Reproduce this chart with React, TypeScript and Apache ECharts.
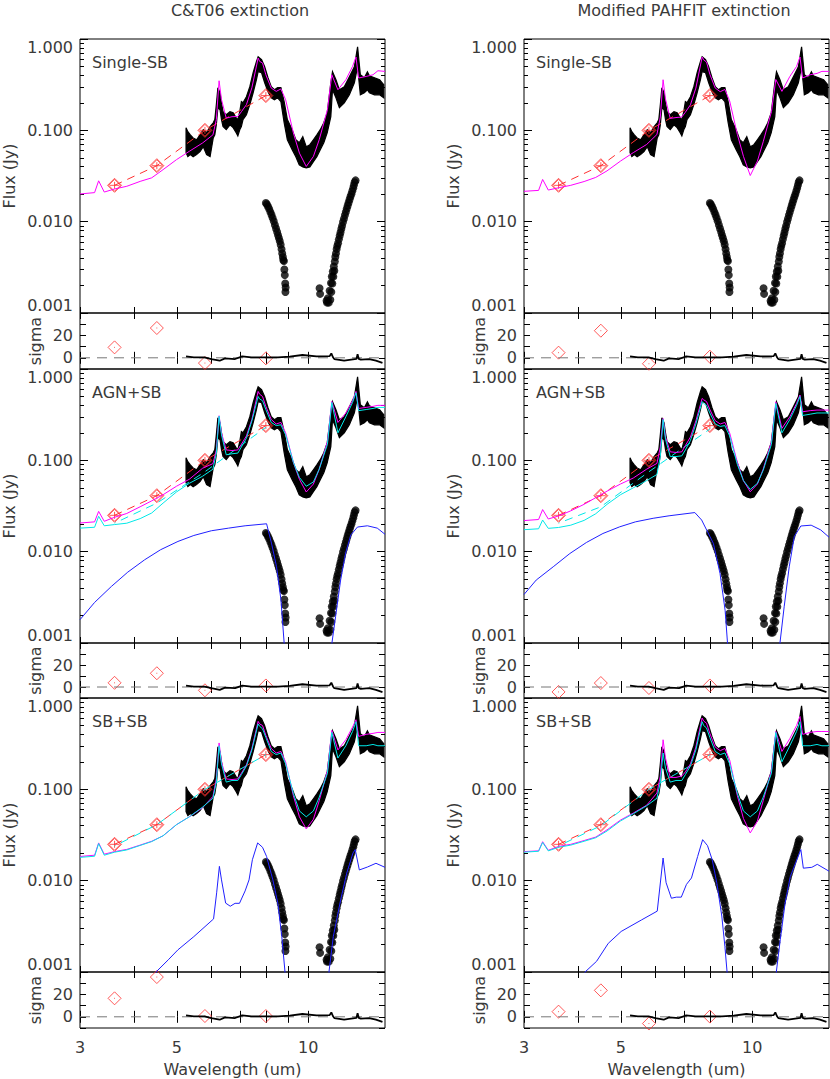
import React, { useEffect, useRef } from "react";
import * as echarts from "echarts";

// ---------- axes / ticks ----------
const xTickWaves = [3, 4, 5, 6, 7, 8, 9, 10];
const xLabelWaves = [3, 5, 10];
const xRange = [3, 15];
const fluxDecades = [0.001, 0.01, 0.1, 1];
const minorMultipliers = [2, 3, 4, 5, 6, 7, 8, 9];
const sigmaRange = [-10, 40];
const sigmaLabels = [0, 20];

const columnTitles = ["C&T06 extinction", "Modified PAHFIT extinction"];
const rowLabels = ["Single-SB", "AGN+SB", "SB+SB"];

// ---------- observed IRS spectrum (band = error range, Jy) ----------
const specWave = [5.25, 5.30, 5.37, 5.45, 5.55, 5.65, 5.75, 5.85, 5.96, 6.06, 6.11, 6.16, 6.21, 6.28, 6.33, 6.38, 6.49, 6.62, 6.73, 6.84, 6.90, 6.97, 7.03, 7.09, 7.22, 7.35, 7.48, 7.61, 7.68, 7.82, 7.95, 8.09, 8.23, 8.37, 8.51, 8.66, 8.81, 8.96, 9.19, 9.37, 9.54, 9.72, 9.90, 10.09, 10.28, 10.47, 10.66, 10.86, 11.06, 11.27, 11.37, 11.58, 11.79, 12.10, 12.43, 12.76, 12.98, 13.17, 13.45, 13.67, 13.81, 14.19, 14.58, 14.90];
const specHigh = [0.107, 0.0967, 0.0893, 0.0826, 0.0789, 0.0893, 0.1016, 0.0942, 0.1096, 0.121, 0.131, 0.191, 0.293, 0.258, 0.200, 0.160, 0.148, 0.160, 0.156, 0.137, 0.131, 0.160, 0.206, 0.200, 0.233, 0.300, 0.427, 0.564, 0.640, 0.593, 0.497, 0.377, 0.300, 0.278, 0.293, 0.293, 0.206, 0.131, 0.1016, 0.0789, 0.0732, 0.0852, 0.0662, 0.0696, 0.0789, 0.0893, 0.1016, 0.121, 0.156, 0.332, 0.438, 0.358, 0.278, 0.300, 0.386, 0.497, 0.823, 0.406, 0.377, 0.438, 0.396, 0.377, 0.358, 0.316];
const specLow = [0.0569, 0.0515, 0.0543, 0.0515, 0.0543, 0.0584, 0.0662, 0.0543, 0.0515, 0.0826, 0.0893, 0.115, 0.177, 0.168, 0.131, 0.110, 0.1016, 0.115, 0.107, 0.0942, 0.087, 0.1016, 0.110, 0.131, 0.148, 0.191, 0.258, 0.358, 0.438, 0.427, 0.332, 0.265, 0.227, 0.216, 0.227, 0.206, 0.121, 0.0789, 0.0613, 0.0515, 0.0418, 0.0398, 0.0388, 0.0398, 0.0454, 0.0515, 0.0613, 0.0732, 0.0942, 0.141, 0.278, 0.227, 0.177, 0.200, 0.245, 0.332, 0.497, 0.245, 0.258, 0.278, 0.258, 0.245, 0.245, 0.227];

// ---------- black dots ----------
const dotWave = [8.00, 8.04, 8.09, 8.14, 8.19, 8.24, 8.29, 8.34, 8.39, 8.44, 8.49, 8.53, 8.57, 8.61, 8.65, 8.69, 8.72, 8.75, 8.77, 8.80, 8.82, 8.84, 8.86, 8.88, 8.87,
  10.62, 10.65, 11.02, 11.05, 11.10, 11.15, 11.20, 11.24, 11.28, 11.30, 11.33, 11.36, 11.39, 11.42, 11.45, 11.48, 11.51, 11.54, 11.58, 11.62, 11.66, 11.71, 11.76, 11.81, 11.86, 11.91, 11.96, 12.02, 12.08, 12.14, 12.20, 12.26, 12.32, 12.38, 12.44, 12.50, 12.56, 12.62, 12.68, 12.73, 12.78, 12.84];
const dotFlux = [0.0160, 0.0155, 0.0147, 0.0138, 0.0128, 0.0119, 0.0110, 0.0101, 0.0092, 0.0084, 0.0077, 0.0071, 0.0066, 0.0061, 0.0056, 0.0050, 0.0045, 0.0041, 0.0038, 0.0037, 0.0030, 0.0026, 0.0021, 0.0019, 0.0017,
  0.00187, 0.00162, 0.00136, 0.0013, 0.00145, 0.0013, 0.00175, 0.0014, 0.00213, 0.0017, 0.00251, 0.0021, 0.00285, 0.0025, 0.00323, 0.0029, 0.00366, 0.0041, 0.0045, 0.0050, 0.0054, 0.0058, 0.0064, 0.0070, 0.0076, 0.0083, 0.0090, 0.0099, 0.0108, 0.0118, 0.0128, 0.0139, 0.0150, 0.0162, 0.0175, 0.0188, 0.0200, 0.0215, 0.0232, 0.0250, 0.0270, 0.0283];

// ---------- IRAC photometry ----------
const irWave = [3.6, 4.5, 5.8, 8.0];
const irFlux = [0.025, 0.041, 0.100, 0.240];

// ---------- models ----------
const modelWave = [3.0, 3.24, 3.31, 3.41, 3.6, 3.84, 4.12, 4.38, 4.65, 4.99, 5.34, 5.73, 6.05, 6.16, 6.25, 6.33, 6.49, 6.69, 6.9, 7.03, 7.22, 7.43, 7.68, 7.74, 7.86, 8.0, 8.23, 8.45, 8.66, 8.88, 9.25, 9.55, 9.9, 10.28, 10.6, 11.07, 11.33, 11.7, 12.2, 12.64, 12.87, 13.05, 13.58, 14.08, 14.45, 15.0];
const magentaCTSingle = [0.0201, 0.0208, 0.028, 0.0211, 0.0228, 0.0244, 0.0276, 0.0302, 0.0371, 0.0477, 0.0589, 0.0728, 0.0893, 0.131, 0.349, 0.217, 0.136, 0.141, 0.142, 0.16, 0.191, 0.292, 0.619, 0.569, 0.546, 0.406, 0.29, 0.267, 0.284, 0.216, 0.0935, 0.0563, 0.0402, 0.0518, 0.0789, 0.168, 0.406, 0.278, 0.358, 0.501, 0.635, 0.374, 0.389, 0.406, 0.449, 0.442];
const magentaPFSingle = [0.0215, 0.022, 0.029, 0.0222, 0.0235, 0.025, 0.0275, 0.0305, 0.036, 0.046, 0.057, 0.07, 0.09, 0.14, 0.358, 0.22, 0.135, 0.138, 0.14, 0.158, 0.19, 0.29, 0.635, 0.59, 0.56, 0.41, 0.29, 0.265, 0.28, 0.21, 0.09, 0.052, 0.032, 0.046, 0.075, 0.16, 0.36, 0.267, 0.389, 0.5, 0.635, 0.374, 0.406, 0.42, 0.442, 0.442];
const magentaCTAgn = [0.0206, 0.0212, 0.0276, 0.0215, 0.0238, 0.0262, 0.031, 0.036, 0.042, 0.052, 0.062, 0.082, 0.092, 0.13, 0.308, 0.2, 0.13, 0.128, 0.13, 0.15, 0.185, 0.28, 0.568, 0.53, 0.5, 0.39, 0.28, 0.25, 0.26, 0.2, 0.095, 0.062, 0.045, 0.055, 0.08, 0.16, 0.442, 0.26, 0.33, 0.45, 0.568, 0.37, 0.38, 0.39, 0.4, 0.4];
const cyanCTAgn = [0.0181, 0.0185, 0.0244, 0.0192, 0.0198, 0.0205, 0.023, 0.0265, 0.034, 0.045, 0.056, 0.067, 0.08, 0.12, 0.305, 0.19, 0.115, 0.118, 0.12, 0.14, 0.175, 0.27, 0.5, 0.47, 0.45, 0.36, 0.26, 0.24, 0.245, 0.19, 0.095, 0.065, 0.052, 0.058, 0.08, 0.15, 0.43, 0.2, 0.3, 0.43, 0.55, 0.35, 0.36, 0.37, 0.38, 0.38];
const magentaPFAgn = [0.0219, 0.0225, 0.0289, 0.0228, 0.0246, 0.028, 0.033, 0.039, 0.046, 0.055, 0.064, 0.08, 0.0925, 0.14, 0.287, 0.18, 0.124, 0.122, 0.124, 0.145, 0.18, 0.27, 0.476, 0.46, 0.44, 0.36, 0.272, 0.25, 0.26, 0.2, 0.095, 0.06, 0.0453, 0.055, 0.08, 0.16, 0.437, 0.224, 0.3, 0.42, 0.519, 0.34, 0.35, 0.355, 0.355, 0.355];
const cyanPFAgn = [0.0174, 0.0178, 0.0222, 0.018, 0.0184, 0.0195, 0.022, 0.026, 0.033, 0.042, 0.05, 0.06, 0.07, 0.11, 0.28, 0.17, 0.11, 0.11, 0.112, 0.13, 0.165, 0.25, 0.44, 0.42, 0.4, 0.33, 0.25, 0.235, 0.24, 0.185, 0.09, 0.06, 0.048, 0.056, 0.078, 0.15, 0.42, 0.2, 0.28, 0.4, 0.5, 0.31, 0.32, 0.33, 0.33, 0.33];
const magentaCTSb = [0.0184, 0.019, 0.0259, 0.0195, 0.0208, 0.022, 0.0245, 0.027, 0.031, 0.041, 0.05, 0.063, 0.0837, 0.13, 0.322, 0.2, 0.13, 0.128, 0.13, 0.15, 0.185, 0.28, 0.555, 0.52, 0.5, 0.39, 0.28, 0.25, 0.26, 0.2, 0.085, 0.05, 0.0368, 0.047, 0.075, 0.16, 0.442, 0.27, 0.35, 0.48, 0.578, 0.38, 0.4, 0.41, 0.42, 0.42];
const cyanCTSb = [0.018, 0.0185, 0.0255, 0.019, 0.0205, 0.0217, 0.0243, 0.0268, 0.031, 0.041, 0.05, 0.064, 0.08, 0.12, 0.3, 0.19, 0.12, 0.125, 0.125, 0.145, 0.18, 0.27, 0.52, 0.49, 0.46, 0.37, 0.26, 0.24, 0.25, 0.19, 0.09, 0.058, 0.05, 0.058, 0.082, 0.15, 0.42, 0.22, 0.3, 0.43, 0.55, 0.3, 0.3, 0.31, 0.3, 0.3];
const magentaPFSb = [0.0208, 0.0212, 0.0267, 0.0215, 0.0237, 0.025, 0.0275, 0.030, 0.036, 0.046, 0.055, 0.067, 0.091, 0.14, 0.349, 0.22, 0.135, 0.135, 0.14, 0.155, 0.19, 0.29, 0.604, 0.56, 0.53, 0.41, 0.29, 0.265, 0.28, 0.21, 0.085, 0.048, 0.0333, 0.045, 0.075, 0.16, 0.43, 0.26, 0.36, 0.5, 0.628, 0.4, 0.42, 0.43, 0.43, 0.43];
const cyanPFSb = [0.0205, 0.021, 0.0262, 0.0212, 0.0232, 0.0245, 0.027, 0.0295, 0.035, 0.045, 0.054, 0.066, 0.08, 0.12, 0.25, 0.17, 0.12, 0.125, 0.125, 0.145, 0.18, 0.27, 0.55, 0.5, 0.47, 0.37, 0.26, 0.24, 0.25, 0.19, 0.09, 0.058, 0.05, 0.058, 0.082, 0.15, 0.42, 0.2, 0.3, 0.43, 0.55, 0.3, 0.3, 0.31, 0.3, 0.3];

// cyan dashed synthetic photometry (at irWave)
const cyanPhotCTAgn = [0.0205, 0.034, 0.075, 0.23];
const cyanPhotPFAgn = [0.0205, 0.031, 0.075, 0.22];
const cyanPhotCTSb = [0.024, 0.041, 0.1, 0.24];
const cyanPhotPFSb = [0.024, 0.04, 0.1, 0.24];

// blue second components
const blueWaveCTAgn = [3.0, 3.24, 3.54, 3.86, 4.22, 4.59, 5.03, 5.47, 6.0, 6.57, 7.17, 8.03, 8.24, 8.46, 8.66, 8.81, 8.95, 11.2, 11.33, 11.56, 11.87, 12.19, 12.52, 12.97, 13.67, 14.4, 15.0];
const blueFluxCTAgn = [0.0018, 0.00278, 0.00416, 0.00597, 0.00815, 0.0105, 0.01294, 0.01504, 0.01694, 0.0181, 0.0192, 0.0202, 0.0124, 0.0069, 0.0030, 0.0010, 0.0004, 0.0004, 0.00098, 0.00196, 0.0049, 0.0097, 0.0152, 0.0186, 0.0192, 0.0181, 0.0155];
const blueWavePFAgn = [3.0, 3.2, 3.5, 3.82, 4.17, 4.55, 4.97, 5.4, 5.93, 6.45, 7.39, 7.66, 8.15, 8.44, 8.67, 8.78, 8.9, 11.45, 11.58, 11.84, 12.16, 12.49, 12.93, 13.65, 14.36, 15.0];
const blueFluxPFAgn = [0.0034, 0.00489, 0.00683, 0.00953, 0.0126, 0.01581, 0.0187, 0.0212, 0.0232, 0.0247, 0.0268, 0.0222, 0.0123, 0.00577, 0.00228, 0.001, 0.0004, 0.0004, 0.001, 0.00249, 0.00683, 0.01467, 0.0191, 0.0195, 0.0173, 0.0144];
const blueWaveCTSb = [4.4, 4.48, 4.78, 5.03, 5.47, 6.07, 6.17, 6.26, 6.33, 6.47, 6.63, 6.8, 6.96, 7.17, 7.32, 7.45, 7.66, 7.86, 8.03, 8.3, 8.52, 8.7, 8.85, 8.95, 11.1, 11.16, 11.42, 11.87, 12.26, 12.67, 12.82, 13.1, 13.67, 14.3, 15.0];
const blueFluxCTSb = [0.0007, 0.001, 0.00136, 0.00175, 0.00244, 0.00381, 0.00736, 0.01434, 0.0102, 0.00568, 0.00525, 0.00565, 0.00565, 0.00772, 0.0102, 0.01695, 0.0259, 0.0232, 0.0184, 0.0102, 0.00568, 0.00245, 0.001, 0.0004, 0.0004, 0.001, 0.00245, 0.00616, 0.0121, 0.0201, 0.0219, 0.0131, 0.0141, 0.0155, 0.0140];
const blueWavePFSb = [4.0, 4.14, 4.4, 4.68, 5.01, 5.58, 6.06, 6.25, 6.35, 6.53, 6.7, 6.88, 7.07, 7.26, 7.5, 7.7, 7.9, 8.1, 8.3, 8.52, 8.66, 8.76, 8.9, 11.2, 11.36, 11.6, 11.9, 12.23, 12.6, 12.93, 13.1, 13.7, 14.1, 15.0];
const blueFluxPFSb = [0.0007, 0.001, 0.00131, 0.00206, 0.00278, 0.00372, 0.00464, 0.0177, 0.0095, 0.00642, 0.0066, 0.0066, 0.0091, 0.0107, 0.0184, 0.0281, 0.0242, 0.0169, 0.0094, 0.0041, 0.0019, 0.001, 0.0004, 0.0004, 0.001, 0.00226, 0.0057, 0.0111, 0.016, 0.0219, 0.0137, 0.014, 0.0151, 0.0127];

// ---------- residuals ----------
const residWave = [5.25, 5.47, 5.79, 6.0, 6.27, 6.45, 6.8, 7.06, 7.41, 7.9, 8.53, 9.07, 9.7, 10.45, 11.2, 11.3, 11.4, 11.48, 12.09, 12.9, 12.98, 13.06, 13.2, 13.8, 14.3, 14.8];
const residSigma = [1.3, 0.4, 0.4, -1.1, -2.6, -0.5, -1.1, 1.3, 0.4, 0.4, 0.4, 1.0, 2.5, 1.3, 1.5, 3.9, 0.5, -1.1, -2.6, -1.0, 3.3, -1.0, -1.7, -1.1, -2.6, -4.6];
const sigmaCTSingle = [9.3, 26.6, -4.7, -0.5];
const sigmaPFSingle = [4.6, 24.2, -5.3, 1.0];
const sigmaCTAgn = [3.8, 12.5, -3.0, 1.4];
const sigmaPFAgn = [-4.5, 3.6, -0.9, 1.4];
const sigmaCTSb = [16.5, 35.5, 0.7, 0.7];
const sigmaPFSb = [4.6, 23.6, -6.0, 0.2];

const panels = [
  { col: 0, row: 0, magenta: magentaCTSingle, cyan: null, cyanPhot: null, blueW: null, blueF: null, sigma: sigmaCTSingle },
  { col: 0, row: 1, magenta: magentaCTAgn, cyan: cyanCTAgn, cyanPhot: cyanPhotCTAgn, blueW: blueWaveCTAgn, blueF: blueFluxCTAgn, sigma: sigmaCTAgn },
  { col: 0, row: 2, magenta: magentaCTSb, cyan: cyanCTSb, cyanPhot: cyanPhotCTSb, blueW: blueWaveCTSb, blueF: blueFluxCTSb, sigma: sigmaCTSb },
  { col: 1, row: 0, magenta: magentaPFSingle, cyan: null, cyanPhot: null, blueW: null, blueF: null, sigma: sigmaPFSingle },
  { col: 1, row: 1, magenta: magentaPFAgn, cyan: cyanPFAgn, cyanPhot: cyanPhotPFAgn, blueW: blueWavePFAgn, blueF: blueFluxPFAgn, sigma: sigmaPFAgn },
  { col: 1, row: 2, magenta: magentaPFSb, cyan: cyanPFSb, cyanPhot: cyanPhotPFSb, blueW: blueWavePFSb, blueF: blueFluxPFSb, sigma: sigmaPFSb },
];

// ---------- layout ----------
const colLeft = [80, 524];
const plotW = 305;
const mainTop = [39, 369, 698];
const mainH = 274;
const residTop = [313, 643, 972];
const residH = [56, 55, 56];

const FONT = "DejaVu Sans";
const TXT = "#3a3a3a";
const RED = "#ff3030";
const MAGENTA = "#ff00ff";
const CYAN = "#00e8e8";
const BLUE = "#2020ff";

const lx = (w: number) => Math.log10(w);
const ly = (f: number) => Math.log10(f) + 3;

function buildOption() {
  const grid: any[] = [];
  const xAxis: any[] = [];
  const yAxis: any[] = [];
  const series: any[] = [];
  const graphic: any[] = [];

  const X0 = lx(xRange[0]);
  const X1 = lx(xRange[1]);
  const xTickVals = xTickWaves.map(lx);
  const xLabelVals = xLabelWaves.map(lx);
  const yMin = ly(fluxDecades[0]);
  const yMax = ly(fluxDecades[fluxDecades.length - 1]);
  const minorVals: number[] = [];
  fluxDecades.slice(0, -1).forEach((d) => minorMultipliers.forEach((m) => minorVals.push(ly(d * m))));

  const labelStyle = { fontFamily: FONT, fontSize: 16, color: TXT };
  const tickLine = { color: "#000", width: 1 };

  const addX = (gi: number, position: string, showLabel: boolean, name?: string) => {
    xAxis.push({
      type: "value", gridIndex: gi, position, min: X0, max: X1,
      axisLine: { show: false }, splitLine: { show: false },
      axisTick: { show: true, inside: true, length: 6, customValues: xTickVals, lineStyle: tickLine },
      axisLabel: { show: showLabel, customValues: xLabelVals, margin: 11, ...labelStyle,
        formatter: (v: number) => String(Math.round(Math.pow(10, v))) },
      name: name || "", nameLocation: "middle", nameGap: 33,
      nameTextStyle: { fontFamily: FONT, fontSize: 16, color: TXT },
    });
    return xAxis.length - 1;
  };
  const addYMain = (gi: number, position: string, minor: boolean, showLabel: boolean) => {
    yAxis.push({
      type: "value", gridIndex: gi, position, min: yMin, max: yMax, interval: 1,
      axisLine: { show: false }, splitLine: { show: false },
      axisTick: minor
        ? { show: true, inside: true, length: 4, customValues: minorVals, lineStyle: tickLine }
        : { show: true, inside: true, length: 8, lineStyle: tickLine },
      axisLabel: { show: showLabel, margin: 7, ...labelStyle,
        verticalAlignMinLabel: "bottom", verticalAlignMaxLabel: "top",
        formatter: (v: number) => Math.pow(10, v - 3).toFixed(3) },
    });
    return yAxis.length - 1;
  };
  const addYResid = (gi: number, position: string, showLabel: boolean) => {
    yAxis.push({
      type: "value", gridIndex: gi, position, min: sigmaRange[0], max: sigmaRange[1], interval: 10,
      axisLine: { show: false }, splitLine: { show: false },
      axisTick: { show: true, inside: true, length: 6, lineStyle: tickLine },
      axisLabel: { show: showLabel, margin: 7, ...labelStyle,
        formatter: (v: number) => (sigmaLabels.indexOf(v) >= 0 ? String(v) : "") },
    });
    return yAxis.length - 1;
  };

  const diamondCross = "path://M0,-10L10,0L0,10L-10,0Z M0,-8.5L8.5,0L0,8.5L-8.5,0Z M-7,0L7,0 M0,-5L0,5";
  const diamondDot = "path://M0,-10L10,0L0,10L-10,0Z M-0.7,0L0.7,0";

  panels.forEach((p, pi) => {
    const left = colLeft[p.col];
    const isBottom = p.row === 2;
    // main grid
    const gm = grid.length;
    grid.push({ left, top: mainTop[p.row], width: plotW, height: mainH, show: true, borderColor: "#000", borderWidth: 1, backgroundColor: "transparent", containLabel: false, outerBoundsMode: "none" });
    const xm = addX(gm, "bottom", false);
    addX(gm, "top", false);
    const ym = addYMain(gm, "left", false, true);
    addYMain(gm, "left", true, false);
    addYMain(gm, "right", false, false);
    addYMain(gm, "right", true, false);

    // residual grid
    const gr = grid.length;
    grid.push({ left, top: residTop[p.row], width: plotW, height: residH[p.row], show: true, borderColor: "#000", borderWidth: 1, backgroundColor: "transparent", containLabel: false, outerBoundsMode: "none" });
    const xr = addX(gr, "bottom", isBottom, isBottom ? "Wavelength (um)" : "");
    addX(gr, "top", false);
    const yr = addYResid(gr, "left", true);
    addYResid(gr, "right", false);

    const base = { xAxisIndex: xm, yAxisIndex: ym, silent: true, animation: false };
    // spectrum band (polygon between low and high error envelopes)
    series.push({ ...base, type: "custom",
      data: [[lx(specWave[0]), ly(specLow[0])]],
      encode: { x: 0, y: 1 },
      renderItem: (_params: any, api: any) => {
        const pts: number[][] = [];
        specWave.forEach((w, i) => pts.push(api.coord([lx(w), ly(specHigh[i])])));
        for (let i = specWave.length - 1; i >= 0; i--) pts.push(api.coord([lx(specWave[i]), ly(specLow[i])]));
        return { type: "polygon", shape: { points: pts }, style: { fill: "#000", stroke: "#000", lineWidth: 1.2 } };
      } });
    // dots
    series.push({ ...base, type: "scatter", symbol: "circle", symbolSize: 8,
      itemStyle: { color: "#000" }, data: dotWave.map((w, i) => [lx(w), ly(dotFlux[i])]) });
    // red dashed photometry line
    series.push({ ...base, type: "line", symbol: "none",
      lineStyle: { color: RED, width: 1, type: [8, 6] },
      data: irWave.map((w, i) => [lx(w), ly(irFlux[i])]) });
    if (p.cyanPhot) {
      series.push({ ...base, type: "line", symbol: "none",
        lineStyle: { color: CYAN, width: 1, type: [8, 6], dashOffset: 7 },
        data: irWave.map((w, i) => [lx(w), ly(p.cyanPhot![i])]) });
    }
    // magenta model
    series.push({ ...base, type: "line", symbol: "none",
      lineStyle: { color: MAGENTA, width: 1 },
      data: modelWave.map((w, i) => [lx(w), ly(p.magenta[i])]) });
    if (p.cyan) {
      series.push({ ...base, type: "line", symbol: "none",
        lineStyle: { color: CYAN, width: 1 },
        data: modelWave.map((w, i) => [lx(w), ly(p.cyan![i])]) });
    }
    if (p.blueW) {
      series.push({ ...base, type: "line", symbol: "none", clip: true,
        lineStyle: { color: BLUE, width: 1 },
        data: p.blueW.map((w, i) => [lx(w), ly(p.blueF![i])]) });
    }
    // photometry diamonds
    series.push({ ...base, type: "scatter", symbol: diamondCross, symbolSize: 14,
      itemStyle: { color: "rgba(0,0,0,0)", borderColor: RED, borderWidth: 1 },
      data: irWave.map((w, i) => [lx(w), ly(irFlux[i])]) });

    // residual panel
    const rbase = { xAxisIndex: xr, yAxisIndex: yr, silent: true, animation: false };
    series.push({ ...rbase, type: "line", symbol: "none",
      lineStyle: { color: "#777", width: 1, type: [10, 7] },
      data: [[X0, 0], [X1, 0]] });
    series.push({ ...rbase, type: "line", symbol: "none",
      lineStyle: { color: "#000", width: 1.8 },
      data: residWave.map((w, i) => [lx(w), residSigma[i]]) });
    series.push({ ...rbase, type: "scatter", symbol: diamondDot, symbolSize: 13,
      itemStyle: { color: "rgba(0,0,0,0)", borderColor: RED, borderWidth: 1 },
      data: irWave.map((w, i) => [lx(w), p.sigma[i]]) });

    // texts
    graphic.push({ type: "text", x: left + 12, y: mainTop[p.row] + 23, silent: true,
      style: { text: rowLabels[p.row], font: `16px "${FONT}"`, fill: TXT, textAlign: "left", textVerticalAlign: "middle", align: "left", verticalAlign: "middle" } });
    graphic.push({ type: "text", x: left - 71, y: mainTop[p.row] + mainH / 2, rotation: Math.PI / 2, silent: true,
      style: { text: "Flux (Jy)", font: `16px "${FONT}"`, fill: TXT, textAlign: "center", textVerticalAlign: "middle", align: "center", verticalAlign: "middle" } });
    graphic.push({ type: "text", x: left - 45, y: residTop[p.row] + residH[p.row] / 2, rotation: Math.PI / 2, silent: true,
      style: { text: "sigma", font: `16px "${FONT}"`, fill: TXT, textAlign: "center", textVerticalAlign: "middle", align: "center", verticalAlign: "middle" } });
  });

  graphic.push({ type: "text", x: 240, y: 10, silent: true,
    style: { text: columnTitles[0], font: `16px "${FONT}"`, fill: TXT, textAlign: "center", textVerticalAlign: "middle", align: "center", verticalAlign: "middle" } });
  graphic.push({ type: "text", x: 684, y: 10, silent: true,
    style: { text: columnTitles[1], font: `16px "${FONT}"`, fill: TXT, textAlign: "center", textVerticalAlign: "middle", align: "center", verticalAlign: "middle" } });

  return {
    animation: false,
    backgroundColor: "#fff",
    textStyle: { fontFamily: FONT },
    grid, xAxis, yAxis, series, graphic,
  };
}

export default function App() {
  const ref = useRef<HTMLDivElement>(null);
  useEffect(() => {
    if (!ref.current) return;
    const chart = echarts.init(ref.current, undefined, { renderer: "svg" });
    chart.setOption(buildOption() as any);
    return () => chart.dispose();
  }, []);
  return <div ref={ref} style={{ position: "absolute", left: 0, top: 0, width: 830, height: 1079 }} />;
}
